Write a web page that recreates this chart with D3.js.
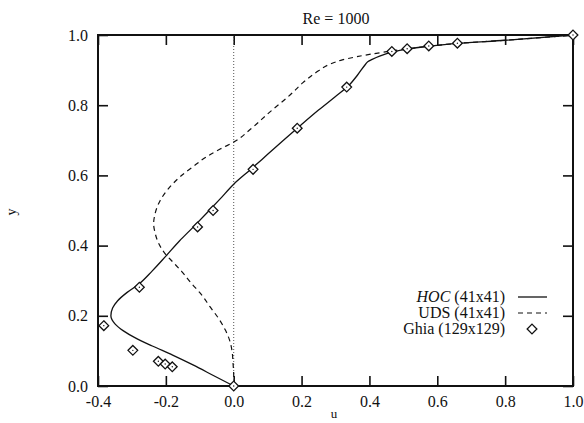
<!DOCTYPE html>
<html>
<head>
<meta charset="utf-8">
<script src="https://cdn.jsdelivr.net/npm/d3@7"></script>
<style>
  body { margin: 0; background: #fff; }
  text { font-family: "Liberation Serif", "Times New Roman", serif; fill: #111; }
</style>
</head>
<body>
<svg id="chart"></svg>
<script>
// HOC (41x41) solid curve, [u, y]
const hocData = [
  [0, 0], [-0.06, 0.03], [-0.12, 0.06], [-0.18, 0.088], [-0.24, 0.114], [-0.29, 0.137],
  [-0.325, 0.157], [-0.35, 0.177], [-0.362, 0.2], [-0.357, 0.222], [-0.342, 0.243],
  [-0.315, 0.266], [-0.28, 0.29], [-0.24, 0.328], [-0.2, 0.37], [-0.16, 0.413],
  [-0.12, 0.452], [-0.08, 0.492], [-0.04, 0.533], [0, 0.575], [0.05, 0.617],
  [0.1, 0.66], [0.15, 0.703], [0.2, 0.745], [0.25, 0.786], [0.3, 0.825],
  [0.34, 0.857], [0.365, 0.886], [0.388, 0.916], [0.395, 0.924], [0.405, 0.929],
  [0.43, 0.94], [0.47, 0.952], [0.51, 0.96], [0.575, 0.968], [0.66, 0.976],
  [0.8, 0.985], [1.0, 1.0]
];

// UDS (41x41) dashed curve, [u, y]
const udsData = [
  [0, 0], [0, 0.03], [-0.002, 0.065], [-0.005, 0.1], [-0.012, 0.13], [-0.025, 0.16],
  [-0.045, 0.193], [-0.07, 0.226], [-0.094, 0.259], [-0.125, 0.293], [-0.153, 0.326],
  [-0.18, 0.354], [-0.203, 0.378], [-0.221, 0.406], [-0.232, 0.437], [-0.236, 0.462],
  [-0.232, 0.49], [-0.217, 0.528], [-0.19, 0.565], [-0.158, 0.596], [-0.12, 0.625],
  [-0.08, 0.653], [-0.04, 0.675], [0.004, 0.697], [0.05, 0.732], [0.107, 0.781],
  [0.166, 0.829], [0.205, 0.865], [0.25, 0.898], [0.284, 0.917], [0.32, 0.929],
  [0.362, 0.938], [0.441, 0.951], [0.5, 0.959], [0.575, 0.968], [0.66, 0.976],
  [0.8, 0.985], [1.0, 1.0]
];

// Ghia (129x129) reference points
const ghiaU = [1.0, 0.65928, 0.57492, 0.51117, 0.46604, 0.33304, 0.18719, 0.05702,
  -0.06080, -0.10648, -0.27805, -0.38289, -0.29730, -0.22220, -0.20196, -0.18109, 0.0];
const ghiaY = [1.0, 0.9766, 0.9688, 0.9609, 0.9531, 0.8516, 0.7344, 0.6172,
  0.5, 0.4531, 0.2813, 0.1719, 0.1016, 0.0703, 0.0625, 0.0547, 0.0];

const xTicks = [-0.4, -0.2, 0.0, 0.2, 0.4, 0.6, 0.8, 1.0];
const yTicks = [0.0, 0.2, 0.4, 0.6, 0.8, 1.0];
const legendLabels = ["HOC", "UDS", "Ghia"];
const legendSuffix = [" (41x41)", " (41x41)", " (129x129)"];

const W = 584, H = 423;
const margin = {top: 35, right: 11, bottom: 37, left: 98};
const width = W - margin.left - margin.right;
const height = H - margin.top - margin.bottom;

const svg = d3.select('#chart').attr('width', W).attr('height', H);
const g = svg.append('g').attr('transform', `translate(${margin.left},${margin.top})`);

const x = d3.scaleLinear().domain([-0.4, 1.0]).range([0, width]);
const y = d3.scaleLinear().domain([0, 1]).range([height, 0]);

const fmt = d3.format('.1f');
const tickLen = 10;

// axes: labelled bottom/left, ticks only top/right, all ticks inward
const styleAxis = (sel) => {
  sel.select('.domain').remove();
  sel.selectAll('.tick line').attr('stroke', '#111').attr('stroke-width', 1.6);
  sel.selectAll('.tick text').style('font-size', '16px').attr('fill', '#111');
};

g.append('g').attr('transform', `translate(0,${height})`)
  .call(d3.axisBottom(x).tickValues(xTicks).tickFormat((d) => fmt(d).replace('−', '-'))
    .tickSizeInner(-tickLen).tickSizeOuter(0).tickPadding(10))
  .call(styleAxis);
g.append('g')
  .call(d3.axisTop(x).tickValues(xTicks).tickFormat('').tickSizeInner(-tickLen).tickSizeOuter(0))
  .call(styleAxis);
g.append('g')
  .call(d3.axisLeft(y).tickValues(yTicks).tickFormat(fmt).tickSizeInner(-tickLen).tickSizeOuter(0).tickPadding(10))
  .call(styleAxis);
g.append('g').attr('transform', `translate(${width},0)`)
  .call(d3.axisRight(y).tickValues(yTicks).tickFormat('').tickSizeInner(-tickLen).tickSizeOuter(0))
  .call(styleAxis);

// zero line
g.append('line')
  .attr('x1', x(0)).attr('x2', x(0)).attr('y1', y(0)).attr('y2', y(1))
  .attr('stroke', '#555').attr('stroke-width', 1).attr('stroke-dasharray', '1,2');

// frame
g.append('rect').attr('width', width).attr('height', height)
  .attr('fill', 'none').attr('stroke', '#111').attr('stroke-width', 2);

const line = d3.line().x((d) => x(d[0])).y((d) => y(d[1])).curve(d3.curveMonotoneY);

g.append('path').datum(udsData).attr('d', line)
  .attr('fill', 'none').attr('stroke', '#111').attr('stroke-width', 1.2).attr('stroke-dasharray', '5,4');
g.append('path').datum(hocData).attr('d', line)
  .attr('fill', 'none').attr('stroke', '#111').attr('stroke-width', 1.3);

const diamond = d3.symbol().type(d3.symbolDiamond2).size(60);
const ghia = ghiaU.map((u, i) => [u, ghiaY[i]]);
const pts = g.selectAll('g.pt').data(ghia).enter().append('g')
  .attr('class', 'pt')
  .attr('transform', (d) => `translate(${x(d[0])},${y(d[1])})`);
pts.append('path').attr('d', diamond).attr('fill', '#fff').attr('stroke', '#111').attr('stroke-width', 1.3);
pts.append('circle').attr('r', 0.7).attr('fill', '#111');

// title and axis labels
svg.append('text').attr('x', 336).attr('y', 24).attr('text-anchor', 'middle')
  .style('font-size', '16px').text('Re = 1000');
svg.append('text').attr('x', 334).attr('y', 418).attr('text-anchor', 'middle')
  .style('font-size', '13px').text('u');
svg.append('text').attr('transform', 'translate(16,212) rotate(-90)').attr('text-anchor', 'middle')
  .style('font-size', '14px').text('y');

// legend
const lg = svg.append('g');
const rowY = [297, 313, 329];
legendLabels.forEach((lab, i) => {
  const t = lg.append('text').attr('x', 505).attr('y', rowY[i] + 5).attr('text-anchor', 'end')
    .style('font-size', '16px');
  t.append('tspan').style('font-style', i === 0 ? 'italic' : 'normal').text(lab);
  t.append('tspan').text(legendSuffix[i]);
});
lg.append('line').attr('x1', 518).attr('x2', 547).attr('y1', rowY[0]).attr('y2', rowY[0])
  .attr('stroke', '#111').attr('stroke-width', 1.3);
lg.append('line').attr('x1', 518).attr('x2', 547).attr('y1', rowY[1]).attr('y2', rowY[1])
  .attr('stroke', '#111').attr('stroke-width', 1.2).attr('stroke-dasharray', '5,4');
lg.append('path').attr('transform', `translate(532,${rowY[2]})`).attr('d', diamond)
  .attr('fill', '#fff').attr('stroke', '#111').attr('stroke-width', 1.3);
</script>
</body>
</html>
